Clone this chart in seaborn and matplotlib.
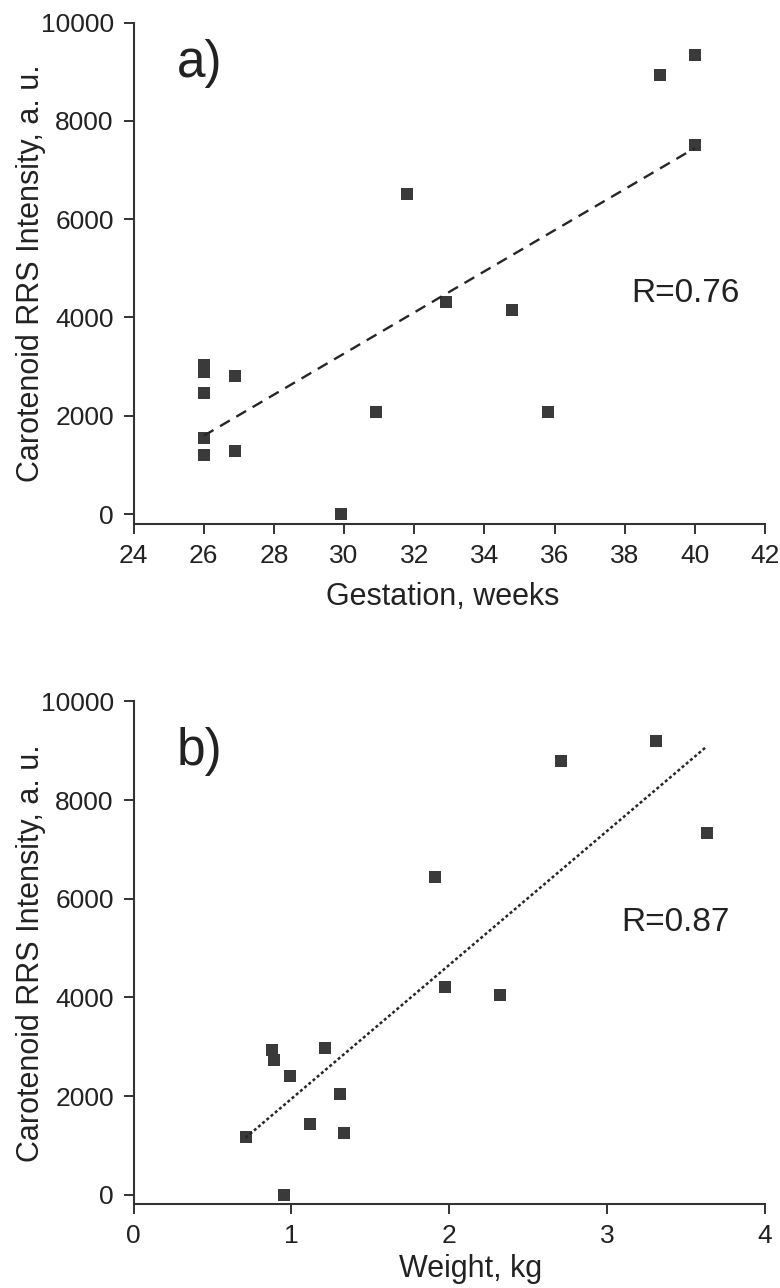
import numpy as np
import matplotlib
matplotlib.use("Agg")
import matplotlib.pyplot as plt
import seaborn as sns

# Panel a: carotenoid RRS intensity versus gestational age
gest_weeks = [40.0, 39.0, 40.0, 31.8, 32.9, 34.8, 35.8, 30.9, 29.9,
              26.0, 26.0, 26.0, 26.9, 26.0, 26.0, 26.9]
rrs_a = [9330, 8930, 7510, 6520, 4320, 4160, 2070, 2070, 0,
         3030, 2900, 2470, 2820, 1540, 1210, 1280]

# Panel b: carotenoid RRS intensity versus birth weight
weight_kg = [3.31, 2.71, 3.63, 1.91, 1.97, 2.32, 0.88, 0.89, 1.21,
             0.99, 1.31, 1.12, 1.33, 0.71, 0.95]
rrs_b = [9190, 8790, 7340, 6450, 4220, 4040, 2940, 2730, 2970,
         2400, 2040, 1440, 1240, 1170, 0]

y_ticks = [0, 2000, 4000, 6000, 8000, 10000]
x_ticks_a = [24, 26, 28, 30, 32, 34, 36, 38, 40, 42]
x_ticks_b = [0, 1, 2, 3, 4]

r_text_a = "R=0.76"
r_text_b = "R=0.87"
y_label = "Carotenoid RRS Intensity, a. u."

sns.set_style("ticks")
plt.rcParams["font.family"] = ["Liberation Sans", "DejaVu Sans"]
plt.rcParams["text.color"] = "#222222"
plt.rcParams["axes.labelcolor"] = "#222222"
plt.rcParams["xtick.color"] = "#333333"
plt.rcParams["ytick.color"] = "#333333"
plt.rcParams["xtick.labelcolor"] = "#222222"
plt.rcParams["ytick.labelcolor"] = "#222222"

mark_color = "#3a3a3a"
line_color = "#262626"
spine_color = "#333333"

fig = plt.figure(figsize=(7.8, 12.88), dpi=100)
ax_a = fig.add_axes([0.1712, 0.59317, 0.8096, 0.38936])
ax_b = fig.add_axes([0.1712, 0.06483, 0.8096, 0.39053])


def style_axes(ax, xticks, xlim):
    ax.set_xlim(*xlim)
    ax.set_ylim(-200, 10000)
    ax.set_xticks(xticks)
    ax.set_yticks(y_ticks)
    ax.tick_params(axis="both", labelsize=19, length=7.2, width=1.4, pad=7.0,
                   color=spine_color)
    for side in ("top", "right"):
        ax.spines[side].set_visible(False)
    for side in ("left", "bottom"):
        ax.spines[side].set_linewidth(1.5)
        ax.spines[side].set_color(spine_color)
    ax.set_ylabel(y_label, fontsize=22)
    ax.yaxis.set_label_coords(-0.138, 0.5)


# Panel a
sns.regplot(x=np.array(gest_weeks), y=np.array(rrs_a), ax=ax_a, ci=None,
            truncate=True, marker="s",
            scatter_kws=dict(s=78, color=mark_color, linewidths=0, alpha=1),
            line_kws=dict(color=line_color, lw=1.7, dashes=(4.8, 3.2)))
style_axes(ax_a, x_ticks_a, (24, 42))
ax_a.set_xlabel("Gestation, weeks", fontsize=22)
ax_a.xaxis.set_label_coords(0.49, -0.1157)
ax_a.text(25.23, 8885, "a)", fontsize=37, ha="left", va="baseline")
ax_a.text(38.2, 4310, r_text_a, fontsize=24, ha="left", va="baseline")

# Panel b
sns.regplot(x=np.array(weight_kg), y=np.array(rrs_b), ax=ax_b, ci=None,
            truncate=True, marker="s",
            scatter_kws=dict(s=78, color=mark_color, linewidths=0, alpha=1),
            line_kws=dict(color=line_color, lw=1.8, dashes=(1.2, 1.0)))
style_axes(ax_b, x_ticks_b, (0, 4))
ax_b.set_xlabel("Weight, kg", fontsize=22)
ax_b.xaxis.set_label_coords(0.534, -0.0984)
ax_b.text(0.27, 8720, "b)", fontsize=37, ha="left", va="baseline")
ax_b.text(3.09, 5340, r_text_b, fontsize=24, ha="left", va="baseline")

fig.savefig("out.png", dpi=100, facecolor="white")
